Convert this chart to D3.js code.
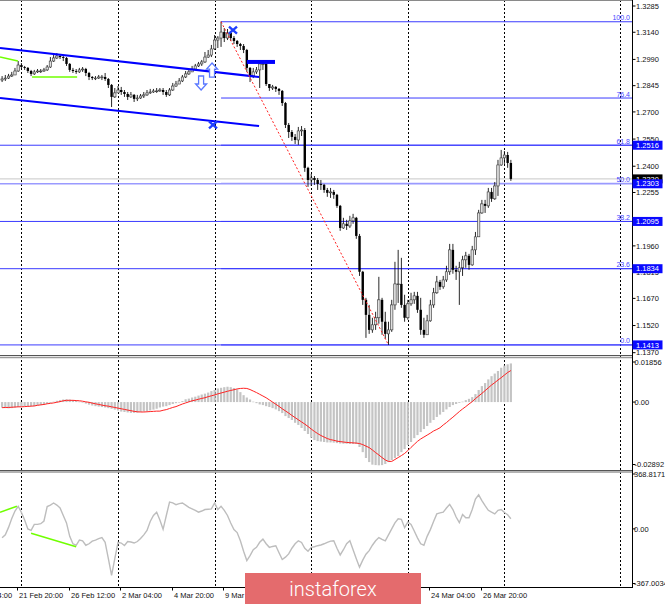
<!DOCTYPE html>
<html><head><meta charset="utf-8">
<script src="https://cdn.jsdelivr.net/npm/d3@7"></script>
<style>html,body{margin:0;padding:0;background:#fff;overflow:hidden}svg{display:block}</style>
</head><body>
<svg id="c" width="665" height="604"></svg>
<script>
// ---------------- DATA (H4 candles) ----------------
const firstOpen = 1.2876;
const closes = [
1.2882,1.2887,1.2898,1.2904,1.2926,1.2959,1.2948,1.2943,1.2926,1.2910,
1.2921,1.2926,1.2926,1.2932,1.2948,1.2981,1.2998,1.3009,1.3003,1.2998,
1.2965,1.2932,1.2926,1.2921,1.2932,1.2937,1.2915,1.2893,1.2887,1.2887,
1.2893,1.2893,1.2882,1.2849,1.2783,1.2805,1.2821,1.2810,1.2799,1.2783,
1.2794,1.2772,1.2777,1.2788,1.2794,1.2805,1.2810,1.2816,1.2816,1.2821,
1.2810,1.2794,1.2821,1.2843,1.2854,1.2871,1.2893,1.2910,1.2921,1.2937,
1.2954,1.2965,1.2976,1.3003,1.3014,1.3048,1.3097,1.3108,1.3141,1.3108,
1.3136,1.3108,1.3092,1.3075,1.3064,1.3042,1.2943,1.2898,1.2921,1.2932,
1.2965,1.2965,1.2854,1.2832,1.2838,1.2827,1.2816,1.2749,1.2628,1.2589,
1.2562,1.2545,1.2595,1.2600,1.2391,1.2324,1.2335,1.2324,1.2302,1.2297,
1.2269,1.2253,1.2258,1.2242,1.2181,1.2059,1.2082,1.2070,1.2098,1.2115,
1.2015,1.1817,1.1662,1.1579,1.1496,1.1524,1.1563,1.1662,1.1541,1.1474,
1.1496,1.1634,1.1750,1.1750,1.1634,1.1563,1.1640,1.1662,1.1684,1.1607,
1.1496,1.1469,1.1546,1.1634,1.1701,1.1761,1.1734,1.1772,1.1817,1.1938,
1.1828,1.1817,1.1839,1.1883,1.1905,1.1855,1.1938,1.2010,1.2142,1.2192,
1.2181,1.2258,1.2220,1.2291,1.2407,1.2446,1.2462,1.2418,1.2330];
const highs = [
1.2898,1.2904,1.2910,1.2921,1.2943,1.2981,1.2970,1.2954,1.2948,1.2932,
1.2932,1.2937,1.2937,1.2943,1.2959,1.3003,1.3020,1.3025,1.3014,1.3009,
1.3003,1.2970,1.2943,1.2937,1.2943,1.2948,1.2943,1.2921,1.2898,1.2898,
1.2904,1.2904,1.2915,1.2887,1.2854,1.2832,1.2843,1.2838,1.2821,1.2810,
1.2810,1.2799,1.2794,1.2799,1.2810,1.2821,1.2827,1.2827,1.2832,1.2832,
1.2832,1.2821,1.2832,1.2860,1.2871,1.2887,1.2904,1.2926,1.2937,1.2954,
1.2965,1.2976,1.2987,1.3031,1.3042,1.3070,1.3125,1.3119,1.3199,1.3163,
1.3158,1.3136,1.3119,1.3097,1.3081,1.3075,1.3048,1.2948,1.2943,1.2948,
1.2976,1.2976,1.2970,1.2854,1.2849,1.2843,1.2832,1.2821,1.2755,1.2639,
1.2600,1.2578,1.2617,1.2622,1.2611,1.2397,1.2358,1.2346,1.2335,1.2324,
1.2302,1.2280,1.2280,1.2269,1.2247,1.2186,1.2115,1.2104,1.2126,1.2137,
1.2120,1.2026,1.1822,1.1673,1.1634,1.1563,1.1596,1.1789,1.1673,1.1596,
1.1541,1.1662,1.1872,1.1938,1.1894,1.1690,1.1662,1.1701,1.1706,1.1706,
1.1673,1.1563,1.1579,1.1662,1.1728,1.1794,1.1772,1.1794,1.1850,1.1971,
1.1971,1.1850,1.1872,1.1905,1.1927,1.1916,1.1960,1.2037,1.2159,1.2214,
1.2214,1.2280,1.2280,1.2313,1.2435,1.2490,1.2484,1.2479,1.2435];
const lows = [
1.2865,1.2871,1.2882,1.2893,1.2910,1.2921,1.2937,1.2932,1.2915,1.2898,
1.2904,1.2915,1.2915,1.2921,1.2926,1.2943,1.2976,1.2992,1.2992,1.2981,
1.2954,1.2921,1.2915,1.2910,1.2915,1.2921,1.2898,1.2876,1.2876,1.2876,
1.2882,1.2876,1.2871,1.2832,1.2727,1.2777,1.2805,1.2794,1.2783,1.2766,
1.2777,1.2755,1.2760,1.2772,1.2777,1.2788,1.2799,1.2805,1.2805,1.2810,
1.2794,1.2783,1.2788,1.2816,1.2838,1.2854,1.2865,1.2887,1.2904,1.2921,
1.2932,1.2948,1.2954,1.2970,1.2998,1.3003,1.3042,1.3053,1.3059,1.3086,
1.3097,1.3092,1.3075,1.3059,1.3042,1.3025,1.2921,1.2865,1.2887,1.2910,
1.2832,1.2932,1.2843,1.2816,1.2821,1.2810,1.2794,1.2733,1.2611,1.2556,
1.2540,1.2523,1.2518,1.2567,1.2369,1.2286,1.2291,1.2297,1.2269,1.2269,
1.2253,1.2231,1.2225,1.2220,1.2170,1.2043,1.2054,1.2048,1.2059,1.2082,
1.1999,1.1794,1.1634,1.1452,1.1474,1.1480,1.1496,1.1530,1.1469,1.1447,
1.1413,1.1485,1.1607,1.1645,1.1618,1.1541,1.1552,1.1629,1.1640,1.1590,
1.1469,1.1452,1.1469,1.1541,1.1618,1.1695,1.1717,1.1723,1.1761,1.1800,
1.1806,1.1772,1.1634,1.1794,1.1839,1.1828,1.1850,1.1910,1.2010,1.2137,
1.2142,1.2170,1.2203,1.2214,1.2236,1.2402,1.2413,1.2391,1.2319];

const macdHist = [
-0.0026,-0.0028,-0.0029,-0.0028,-0.0025,-0.0023,-0.0021,-0.0019,-0.0019,-0.0019,
-0.0019,-0.0016,-0.0014,-0.0012,-0.0008,-0.0004,0.0002,0.0006,0.0009,0.0012,
0.0013,0.0012,0.0009,0.0006,0.0002,-0.0003,-0.0007,-0.0012,-0.0016,-0.0019,
-0.0021,-0.0023,-0.0025,-0.0028,-0.0031,-0.0035,-0.0039,-0.0044,-0.0046,-0.0048,
-0.0050,-0.0050,-0.0049,-0.0046,-0.0044,-0.0042,-0.0039,-0.0035,-0.0031,-0.0025,
-0.0021,-0.0019,-0.0014,-0.0009,-0.0005,-0.0002,0.0005,0.0013,0.0016,0.0021,
0.0025,0.0030,0.0035,0.0039,0.0044,0.0051,0.0056,0.0063,0.0066,0.0069,
0.0071,0.0069,0.0065,0.0059,0.0046,0.0032,0.0021,0.0012,0.0002,-0.0005,
-0.0011,-0.0014,-0.0019,-0.0023,-0.0028,-0.0034,-0.0042,-0.0051,-0.0065,-0.0074,
-0.0083,-0.0096,-0.0106,-0.0120,-0.0134,-0.0148,-0.0165,-0.0176,-0.0181,-0.0183,
-0.0185,-0.0187,-0.0187,-0.0188,-0.0190,-0.0192,-0.0193,-0.0193,-0.0194,-0.0194,
-0.0194,-0.0208,-0.0232,-0.0259,-0.0278,-0.0290,-0.0292,-0.0293,-0.0292,-0.0287,
-0.0278,-0.0269,-0.0259,-0.0250,-0.0232,-0.0218,-0.0199,-0.0185,-0.0167,-0.0153,
-0.0139,-0.0125,-0.0111,-0.0096,-0.0083,-0.0069,-0.0058,-0.0046,-0.0034,-0.0023,
-0.0014,-0.0009,-0.0004,0.0002,0.0009,0.0015,0.0023,0.0037,0.0056,0.0074,
0.0088,0.0105,0.0120,0.0132,0.0144,0.0159,0.0169,0.0175,0.0179];
const macdSignal = [
-0.0026,-0.0025,-0.0025,-0.0024,-0.0023,-0.0022,-0.0022,-0.0021,-0.0020,-0.0019,
-0.0018,-0.0015,-0.0013,-0.0011,-0.0008,-0.0006,-0.0004,-0.0001,0.0002,0.0006,
0.0008,0.0008,0.0008,0.0007,0.0006,0.0004,0.0001,-0.0001,-0.0005,-0.0008,
-0.0011,-0.0014,-0.0017,-0.0019,-0.0022,-0.0025,-0.0028,-0.0031,-0.0034,-0.0037,
-0.0040,-0.0043,-0.0045,-0.0046,-0.0046,-0.0045,-0.0044,-0.0043,-0.0042,-0.0042,
-0.0038,-0.0035,-0.0030,-0.0025,-0.0021,-0.0015,-0.0009,-0.0004,0.0001,0.0006,
0.0009,0.0013,0.0017,0.0020,0.0025,0.0029,0.0033,0.0038,0.0042,0.0046,
0.0050,0.0054,0.0057,0.0061,0.0063,0.0064,0.0063,0.0058,0.0051,0.0044,
0.0036,0.0028,0.0020,0.0010,0.0000,-0.0010,-0.0020,-0.0031,-0.0041,-0.0051,
-0.0062,-0.0072,-0.0082,-0.0092,-0.0102,-0.0113,-0.0125,-0.0136,-0.0146,-0.0155,
-0.0162,-0.0169,-0.0174,-0.0177,-0.0181,-0.0183,-0.0185,-0.0187,-0.0188,-0.0189,
-0.0190,-0.0192,-0.0197,-0.0204,-0.0211,-0.0222,-0.0234,-0.0245,-0.0257,-0.0268,
-0.0275,-0.0275,-0.0266,-0.0257,-0.0248,-0.0238,-0.0225,-0.0210,-0.0196,-0.0182,
-0.0171,-0.0162,-0.0153,-0.0144,-0.0134,-0.0127,-0.0119,-0.0106,-0.0095,-0.0082,
-0.0070,-0.0057,-0.0044,-0.0032,-0.0021,-0.0009,0.0002,0.0016,0.0028,0.0040,
0.0053,0.0066,0.0079,0.0090,0.0102,0.0113,0.0125,0.0137,0.0146];
const cci = [
-60,-40,10,70,120,152,110,60,0,-10,
30,30,35,53,150,160,174,160,141,90,
40,-50,-100,-110,-75,-80,-110,-100,-82,-75,
-65,-58,-90,-200,-312,-200,-90,-95,-112,-85,
-88,-95,-85,-65,-40,-10,50,90,112,60,
-3,90,180,175,163,170,174,160,145,135,
125,112,120,130,132,134,174,130,152,125,
90,40,-5,-25,-80,-150,-213,-180,-140,-124,
-90,-69,-100,-124,-118,-113,-160,-206,-190,-168,
-130,-100,-80,-91,-130,-150,-124,-120,-113,-108,
-100,-90,-82,-80,-130,-175,-140,-100,-80,-140,
-200,-257,-210,-170,-146,-110,-80,-58,-70,-80,
-40,0,40,68,64,8,46,30,-14,-60,
-100,-110,-50,-5,50,101,108,112,140,165,
130,80,42,97,75,75,130,200,229,190,
156,125,112,101,125,130,110,95,68];

const priceTicks = [1.3285,1.3140,1.2990,1.2845,1.2700,1.2550,1.2400,1.2255,1.1960,1.1815,1.1670,1.1520,1.1370];
const hLines = [1.2516,1.2303,1.2095,1.1834,1.1413];
const bidPrice = 1.2330;
const fibLevels = [0,23.6,38.2,50,61.8,76.4,100];
const fibHigh = {bar:68, price:1.3198};
const fibLow = {bar:120, price:1.1413};
const channelUpper = [{bar:-0.65, price:1.3053},{bar:79.8, price:1.2893}];
const channelLower = [{bar:-0.65, price:1.2777},{bar:79.8, price:1.2622}];
const greenPriceLines = [[{bar:-0.65,price:1.3003},{bar:4.9,price:1.2981}],[{bar:9.3,price:1.2893},{bar:23.3,price:1.2893}]];
const greenCciLines = [[{bar:-0.65,v:112},{bar:4.6,v:152}],[{bar:9,v:-29},{bar:23,v:-120}]];
const crossMarks = [{bar:71.7, price:1.3152},{bar:65.5, price:1.2628}];
const arrowsUp = [{bar:65.2, price:1.2970}];
const arrowsDown = [{bar:61.8, price:1.2821}];
const thickLevel = {from:76, to:84.75, price:1.2976};
const macdTicks = [0.01856, 0, -0.02892];
const macdTickLabels = ["0.01856","0.00","-0.02892"];
const cciTicks = [368.8171, 0, -367.0034];
const cciTickLabels = ["368.8171","0.00","-367.0034"];
const timeLabelBars = [-11,5,21,37,53,69,133,149];
const timeLabels = ["19 Feb 04:00","21 Feb 20:00","26 Feb 12:00","2 Mar 04:00","4 Mar 20:00","9 Mar 12:00","24 Mar 04:00","26 Mar 20:00"];
const gridBars = [6,36,66,96,126,156,192];

// ---------------- CHART ----------------
const svg = d3.select('#c');
const plotR = 632;
const FONT = '"Liberation Sans", Arial, sans-serif';
const x = d3.scaleLinear().domain([0,158]).range([2.1,510.86]);
const yP = d3.scaleLinear().domain([1.1370,1.3285]).range([352.7,6]);
const yM = d3.scaleLinear().domain([-0.02892,0.01856]).range([464.5,362]);
const yC = d3.scaleLinear().domain([-367.0034,368.8171]).range([583.5,474]);

const defs = svg.append('defs');
function clip(id, y0, y1){ defs.append('clipPath').attr('id',id).append('rect').attr('x',0).attr('y',y0).attr('width',plotR).attr('height',y1-y0); }
clip('cm',1,355); clip('cd',358,470); clip('cc',472,587);

// grid
svg.append('g').selectAll('line').data(gridBars).join('line')
  .attr('x1',d=>Math.round(x(d))+0.5).attr('x2',d=>Math.round(x(d))+0.5)
  .attr('y1',0).attr('y2',587).attr('stroke','#000').attr('stroke-width',1).attr('stroke-dasharray','2,2');

// ---- main panel
const gm = svg.append('g').attr('clip-path','url(#cm)');
gm.append('line').attr('x1',0).attr('x2',plotR).attr('y1',yP(bidPrice)).attr('y2',yP(bidPrice)).attr('stroke','#c8c8c8');
gm.selectAll('.hl').data(hLines).join('line').attr('class','hl')
  .attr('x1',0).attr('x2',plotR).attr('y1',d=>yP(d)).attr('y2',d=>yP(d))
  .attr('stroke',d=>d===1.2303?'#9a9aff':'#3b3bff').attr('stroke-width',d=>d===1.2303?1.6:1);
const fibPrice = l => fibLow.price + l/100*(fibHigh.price-fibLow.price);
gm.selectAll('.fl').data(fibLevels).join('line').attr('class','fl')
  .attr('x1',x(fibHigh.bar)).attr('x2',plotR).attr('y1',d=>yP(fibPrice(d))).attr('y2',d=>yP(fibPrice(d)))
  .attr('stroke',d=>d===50?'#9a9aff':'#3b3bff').attr('stroke-width',d=>d===50?1.4:1);
gm.selectAll('.ft').data(fibLevels).join('text').attr('class','ft')
  .attr('x',630).attr('y',d=>yP(fibPrice(d))-1.5).attr('text-anchor','end')
  .attr('font-family',FONT).attr('font-size','7px').attr('fill','#4646ff').text(d=>d.toFixed(1));

// candles
const opens = closes.map((c,i)=> i===0?firstOpen:closes[i-1]);
const cg = gm.append('g');
closes.forEach((c,i)=>{
  const o=opens[i], h=Math.max(highs[i],o,c), l=Math.min(lows[i],o,c), cx=x(i);
  cg.append('line').attr('x1',cx).attr('x2',cx).attr('y1',yP(h)).attr('y2',yP(l)).attr('stroke','#111').attr('stroke-width',0.9);
  const top=yP(Math.max(o,c)), bot=yP(Math.min(o,c));
  const up = c>=o;
  cg.append('rect').attr('x',cx-1.2).attr('y',top).attr('width',2.4).attr('height',Math.max(0.8,bot-top))
    .attr('fill',up?'#e0e0e0':'#000').attr('stroke',up?'#333':'none').attr('stroke-width',0.6);
});

// objects
const pline = d3.line().x(d=>x(d.bar)).y(d=>yP(d.price));
[channelUpper, channelLower].forEach(seg=> gm.append('path').attr('d',pline(seg)).attr('stroke','#0000ff').attr('stroke-width',2).attr('fill','none'));
greenPriceLines.forEach(seg=> gm.append('path').attr('d',pline(seg)).attr('stroke','#70ff00').attr('stroke-width',1.5).attr('fill','none'));
gm.append('path').attr('d',pline([fibHigh,fibLow])).attr('stroke','#ff2020').attr('stroke-width',1).attr('stroke-dasharray','2,2').attr('fill','none');
gm.append('line').attr('x1',x(thickLevel.from)).attr('x2',x(thickLevel.to)).attr('y1',yP(thickLevel.price)).attr('y2',yP(thickLevel.price))
  .attr('stroke','#0000ff').attr('stroke-width',4);
crossMarks.forEach(m=>{
  const cx=x(m.bar), cy=yP(m.price);
  gm.append('path').attr('d',`M${cx-4},${cy-3.5}L${cx+4},${cy+3.5}M${cx-4},${cy+3.5}L${cx+4},${cy-3.5}`)
    .attr('stroke','#1f3fff').attr('stroke-width',2.4).attr('fill','none');
});
arrowsUp.forEach(a=>{
  const cx=x(a.bar), ty=yP(a.price);
  gm.append('path').attr('d',`M${cx},${ty}L${cx+5.5},${ty+6}L${cx+2.5},${ty+6}L${cx+2.5},${ty+14}L${cx-2.5},${ty+14}L${cx-2.5},${ty+6}L${cx-5.5},${ty+6}Z`)
    .attr('fill','#fff').attr('stroke','#5a78ff').attr('stroke-width',1.3);
});
arrowsDown.forEach(a=>{
  const cx=x(a.bar), ty=yP(a.price);
  gm.append('path').attr('d',`M${cx},${ty}L${cx+5.5},${ty-6}L${cx+2.5},${ty-6}L${cx+2.5},${ty-14}L${cx-2.5},${ty-14}L${cx-2.5},${ty-6}L${cx-5.5},${ty-6}Z`)
    .attr('fill','#fff').attr('stroke','#5a78ff').attr('stroke-width',1.3);
});

// ---- MACD panel
const gd = svg.append('g').attr('clip-path','url(#cd)');
gd.selectAll('rect').data(macdHist).join('rect')
  .attr('x',(d,i)=>x(i)-1.1).attr('width',2.2)
  .attr('y',d=>Math.min(yM(d),yM(0))).attr('height',d=>Math.max(0.6,Math.abs(yM(d)-yM(0))))
  .attr('fill','#c4c4c4');
gd.append('path').datum(macdSignal).attr('d',d3.line().x((d,i)=>x(i)).y(d=>yM(d)))
  .attr('fill','none').attr('stroke','#ff2222').attr('stroke-width',1);

// ---- CCI panel
const gc = svg.append('g').attr('clip-path','url(#cc)');
gc.append('path').datum(cci).attr('d',d3.line().x((d,i)=>x(i)).y(d=>yC(d)))
  .attr('fill','none').attr('stroke','#bdbdbd').attr('stroke-width',1.4);
greenCciLines.forEach(seg=> gc.append('path').attr('d',d3.line().x(d=>x(d.bar)).y(d=>yC(d.v))(seg))
  .attr('stroke','#70ff00').attr('stroke-width',1.5).attr('fill','none'));

// ---- frames
svg.append('line').attr('x1',0).attr('x2',plotR).attr('y1',0.5).attr('y2',0.5).attr('stroke','#8a8a8a');
[[355.5,357.5],[470.5,472]].forEach(([a,b])=>{
  svg.append('line').attr('x1',0).attr('x2',plotR).attr('y1',a).attr('y2',a).attr('stroke','#555');
  svg.append('line').attr('x1',0).attr('x2',plotR).attr('y1',b).attr('y2',b).attr('stroke','#9a9a9a').attr('stroke-width',1.5);
});
svg.append('line').attr('x1',0).attr('x2',plotR+0.5).attr('y1',587.5).attr('y2',587.5).attr('stroke','#000');
svg.append('line').attr('x1',plotR+0.5).attr('x2',plotR+0.5).attr('y1',0).attr('y2',588).attr('stroke','#000');

// ---- right axes
const ax = svg.append('g').attr('font-family',FONT).attr('font-size','7.5px').attr('fill','#111');
function rightTicks(vals, labels, scale, tx){
  vals.forEach((v,i)=>{
    const y=scale(v);
    ax.append('line').attr('x1',plotR+0.5).attr('x2',plotR+3.5).attr('y1',y).attr('y2',y).attr('stroke','#000');
    ax.append('text').attr('x',tx).attr('y',y+2.7).text(labels[i]);
  });
}
rightTicks(priceTicks, priceTicks.map(d=>d.toFixed(4)), yP, 636);
rightTicks(macdTicks, macdTickLabels, yM, 634.5);
rightTicks(cciTicks, cciTickLabels, yC, 634);
function box(v, fill){
  const y=yP(v);
  ax.append('rect').attr('x',plotR+0.5).attr('y',y-4.5).attr('width',30).attr('height',9).attr('fill',fill);
  ax.append('text').attr('x',636).attr('y',y+2.7).attr('fill','#fff').text(v.toFixed(4));
}
box(bidPrice,'#000');
hLines.forEach(v=>box(v,'#0a0aff'));

// ---- time axis
const tx = svg.append('g').attr('font-family',FONT).attr('font-size','7.5px').attr('fill','#111');
timeLabelBars.forEach((b,i)=>{
  const xx=Math.round(x(b))-0.5;
  tx.append('line').attr('x1',xx).attr('x2',xx).attr('y1',587.5).attr('y2',590.5).attr('stroke','#000');
  tx.append('text').attr('x',xx+1.5).attr('y',598).text(timeLabels[i]);
});

// ---- banner
svg.append('rect').attr('x',245).attr('y',573).attr('width',176).attr('height',31).attr('fill','#e46b6d');
svg.append('text').attr('x',333).attr('y',596).attr('text-anchor','middle').attr('fill','#fff')
  .attr('font-family','Roboto, "Open Sans", sans-serif').attr('font-weight',300).attr('font-size','20px').text('instaforex');
</script>
</body></html>
